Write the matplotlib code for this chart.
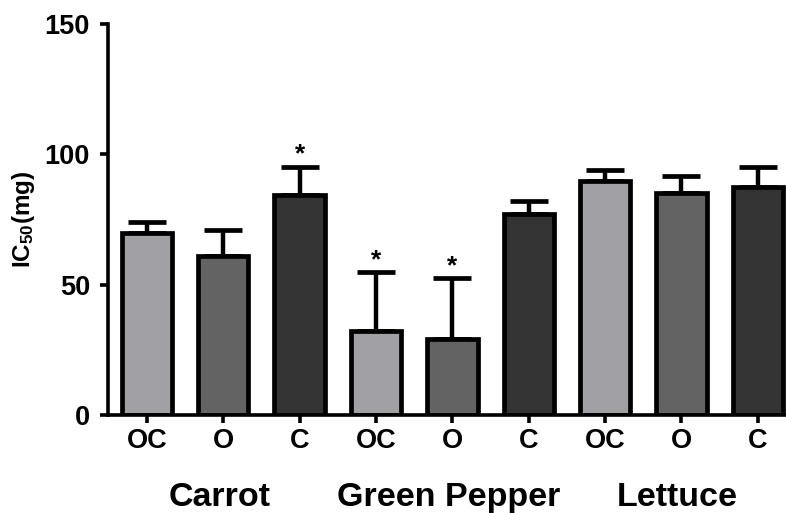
import numpy as np
import matplotlib
matplotlib.use("Agg")
import matplotlib.pyplot as plt
from matplotlib.transforms import blended_transform_factory

plt.rcParams['font.family'] = ['Liberation Sans', 'DejaVu Sans']
plt.rcParams['font.weight'] = 'bold'
plt.rcParams['mathtext.fontset'] = 'custom'
plt.rcParams['mathtext.rm'] = 'Liberation Sans:bold'
plt.rcParams['mathtext.bf'] = 'Liberation Sans:bold'
plt.rcParams['mathtext.default'] = 'bf'

# data
groups = ['Carrot', 'Green Pepper', 'Lettuce']
treatments = ['OC', 'O', 'C']
means = [70.0, 61.0, 84.4, 32.4, 29.0, 77.1, 89.8, 85.0, 87.6]
err_top = [74.0, 71.0, 95.3, 54.8, 52.5, 82.1, 93.8, 91.5, 95.3]
significant = [False, False, True, True, True, False, False, False, False]
colors = ['#a1a1a5', '#636363', '#333333']

sem = [t - m for t, m in zip(err_top, means)]
x = np.arange(len(means))
bar_colors = [colors[i % 3] for i in range(len(means))]
tick_labels = [treatments[i % 3] for i in range(len(means))]

fig = plt.figure(figsize=(7.86, 5.13), dpi=100)
ax = fig.add_axes([108 / 786, 98 / 513, 678 / 786, 391 / 513])

ax.errorbar(x, means, yerr=[np.zeros(len(sem)), sem], fmt='none',
            ecolor='black', elinewidth=3.2, capsize=14, capthick=3.4,
            zorder=1)
ax.bar(x, means, width=0.66, color=bar_colors, edgecolor='black',
       linewidth=3.4, zorder=2)

for xi, top, sig in zip(x, err_top, significant):
    if sig:
        ax.annotate('*', (xi, top), xytext=(0, 0), textcoords='offset points',
                    ha='center', va='bottom', fontsize=19, fontweight='bold')

ax.set_xlim(-0.51, 8.37)
ax.set_ylim(0, 150)
ax.set_yticks([0, 50, 100, 150])
ax.set_xticks(x)
ax.set_xticklabels(tick_labels)

for side in ['top', 'right']:
    ax.spines[side].set_visible(False)
for side in ['left', 'bottom']:
    ax.spines[side].set_linewidth(2.6)

ax.tick_params(axis='both', width=2.6, length=6, labelsize=19.5)
ax.tick_params(axis='x', pad=3)
ax.tick_params(axis='y', pad=7)

ax.set_ylabel('IC$_{50}$(mg)', fontsize=17.5, fontweight='bold')
ax.yaxis.set_label_coords(-0.105, 0.5)

trans = blended_transform_factory(ax.transData, ax.transAxes)
for gi, name in enumerate(groups):
    ax.text(gi * 3 + 0.95, -0.21, name, transform=trans, ha='center',
            va='center', fontsize=24.5, fontweight='bold')

fig.savefig('out.png', dpi=100)
